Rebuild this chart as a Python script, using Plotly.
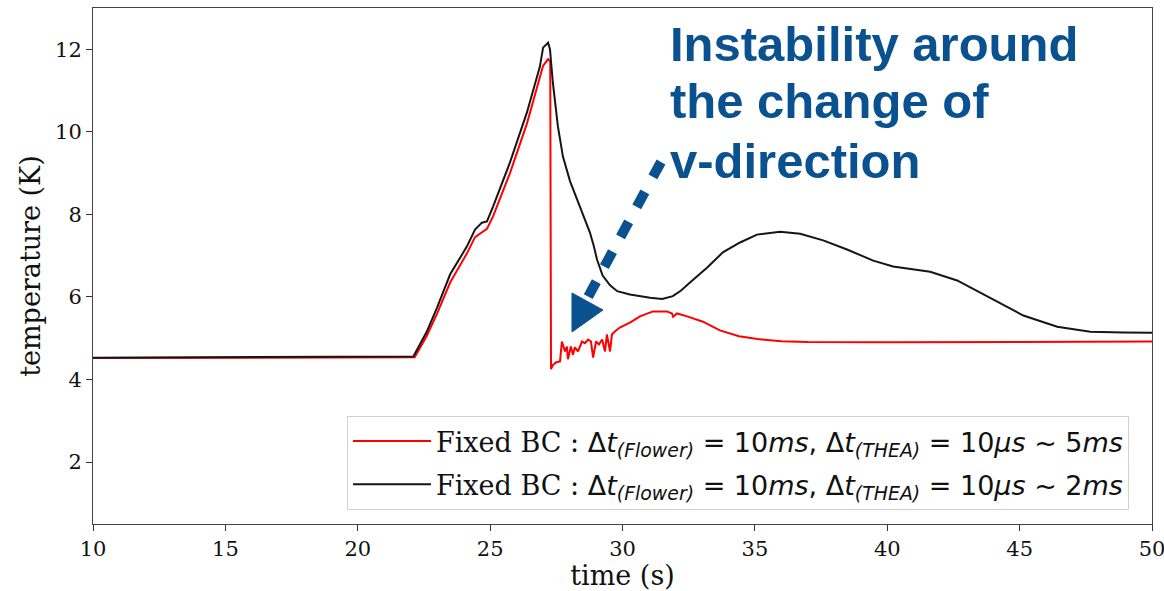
import plotly.graph_objects as go

# ---------------- data ----------------
red_t = [10, 15, 20, 22.15, 22.6, 23.0, 23.49, 24.12, 24.43, 24.69, 24.88, 25.11, 25.75,
         26.39, 26.88, 27.0, 27.19, 27.27, 27.30, 27.37, 27.5, 27.64, 27.71, 27.83, 27.9,
         27.94, 28.05, 28.13, 28.2, 28.32, 28.47, 28.58, 28.7, 28.81, 28.89, 29.0, 29.11,
         29.23, 29.34, 29.41, 29.53, 29.6, 29.72, 29.9, 30.28, 30.66, 31.15, 31.68, 31.87,
         31.91, 32.06, 32.44, 33.04, 33.68, 34.4, 35.1, 36.0, 37.0, 40.0, 45.0, 50.0]
red_T = [4.52, 4.53, 4.54, 4.54, 5.05, 5.6, 6.35, 7.05, 7.45, 7.57, 7.65, 7.95, 9.0,
         10.2, 11.35, 11.6, 11.76, 11.7, 4.25, 4.35, 4.42, 4.44, 4.92, 4.68, 4.80,
         4.49, 4.80, 4.60, 4.78, 4.68, 4.92, 4.88, 4.97, 4.92, 4.53, 4.92, 4.85,
         4.97, 4.68, 5.09, 4.68, 5.09, 5.17, 5.26, 5.38, 5.53, 5.65, 5.65, 5.60,
         5.52, 5.60, 5.53, 5.40, 5.19, 5.05, 4.98, 4.93, 4.91, 4.90, 4.91, 4.92]

black_t = [10, 15, 20, 22.1, 22.6, 23.0, 23.49, 24.12, 24.43, 24.69, 24.88, 25.11, 25.75,
           26.39, 26.88, 27.0, 27.19, 27.26, 27.37, 27.56, 27.75, 28.02, 28.39, 28.77,
           28.92, 29.04, 29.25, 29.53, 29.8, 30.28, 31.04, 31.5, 31.9, 32.2, 32.55, 33.19,
           33.79, 34.44, 35.08, 35.95, 36.71, 37.58, 38.48, 39.47, 40.22, 40.75, 41.62,
           42.64, 43.89, 45.14, 46.42, 47.67, 48.92, 50.0]
black_T = [4.53, 4.54, 4.55, 4.56, 5.15, 5.75, 6.55, 7.22, 7.63, 7.80, 7.83, 8.19, 9.26,
           10.47, 11.58, 12.04, 12.16, 12.0, 11.19, 10.13, 9.40, 8.80, 8.19, 7.56,
           7.22, 6.90, 6.52, 6.28, 6.14, 6.06, 5.98, 5.95, 6.02, 6.15, 6.35, 6.71,
           7.08, 7.32, 7.51, 7.58, 7.53, 7.37, 7.15, 6.88, 6.74, 6.69, 6.61,
           6.40, 5.98, 5.55, 5.28, 5.16, 5.14, 5.13]

x_ticks = [10, 15, 20, 25, 30, 35, 40, 45, 50]
y_ticks = [2, 4, 6, 8, 10, 12]

math_font = "DejaVu Sans"
label_red = ("Fixed BC : <span style='font-family:%s'>Δ<i>t</i><sub><i>(Flower)</i></sub> = 10<i>ms</i>, "
             "Δ<i>t</i><sub><i>(THEA)</i></sub> = 10<i>μs</i> ~ 5<i>ms</i></span>") % math_font
label_black = ("Fixed BC : <span style='font-family:%s'>Δ<i>t</i><sub><i>(Flower)</i></sub> = 10<i>ms</i>, "
               "Δ<i>t</i><sub><i>(THEA)</i></sub> = 10<i>μs</i> ~ 2<i>ms</i></span>") % math_font

note_lines = ["Instability around", "the change of", "v-direction"]

# ---------------- layout helpers (pixel -> paper) ----------------
W, H = 1164, 591
L, R, T, B = 93, 12, 8, 67
PW, PH = W - L - R, H - T - B


def px(x):
    return (x - L) / PW


def py(y):
    return (H - B - y) / PH


BLUE = "#0a5190"

fig = go.Figure()
fig.add_trace(go.Scatter(x=red_t, y=red_T, mode="lines", name=label_red, legendgroup="a",
                         line=dict(color="#ff0000", width=2)))
fig.add_trace(go.Scatter(x=black_t, y=black_T, mode="lines", name=label_black, legendgroup="b",
                         line=dict(color="#151515", width=2)))

annotations = []
for txt, yc in zip(note_lines, [44, 101, 161]):
    annotations.append(dict(text=txt, xref="paper", yref="paper", x=px(668), y=py(yc),
                            xanchor="left", yanchor="middle", showarrow=False,
                            font=dict(family="Liberation Sans, Arial", size=49,
                                      color=BLUE, weight="bold")))

shapes = [
    dict(type="line", xref="paper", yref="paper",
         x0=px(661), y0=py(162), x1=px(588), y1=py(297),
         line=dict(color=BLUE, width=10, dash="17px,17px")),
    dict(type="path", xref="paper", yref="paper",
         path="M %f %f L %f %f L %f %f Z" % (px(572), py(293), px(572), py(332), px(603), py(310)),
         fillcolor=BLUE, line=dict(color=BLUE, width=1)),
]

fig.update_layout(
    width=W, height=H,
    margin=dict(l=L, r=R, t=T, b=B, autoexpand=False),
    plot_bgcolor="white", paper_bgcolor="white",
    showlegend=True,
    legend=dict(x=px(347), y=py(510), xanchor="left", yanchor="bottom",
                bgcolor="rgba(255,255,255,0.85)", bordercolor="#d0d0d0", borderwidth=1,
                font=dict(family="DejaVu Serif", size=27, color="#111"),
                itemwidth=78, tracegroupgap=5),
    annotations=annotations,
    shapes=shapes,
    xaxis=dict(range=[10, 50], tickvals=x_ticks, ticks="outside", ticklen=6,
               tickcolor="#333", showline=True, linecolor="#444", linewidth=1,
               mirror=True, showgrid=False, zeroline=False, ticklabeloverflow="allow",
               tickfont=dict(family="DejaVu Serif", size=21, color="#111"),
               title=dict(text="time (s)", standoff=4,
                          font=dict(family="DejaVu Serif", size=27, color="#111"))),
    yaxis=dict(range=[0.5, 13.0], tickvals=y_ticks, ticks="outside", ticklen=6,
               tickcolor="#333", showline=True, linecolor="#444", linewidth=1,
               mirror=True, showgrid=False, zeroline=False, ticklabeloverflow="allow",
               tickfont=dict(family="DejaVu Serif", size=21, color="#111"),
               title=dict(text="temperature (K)", standoff=6,
                          font=dict(family="DejaVu Serif", size=27, color="#111"))),
)
fig.write_html("out.html", config={"displayModeBar": False},
               post_script="document.body.style.margin='0';document.body.style.padding='0';"
                           "document.documentElement.style.overflow='hidden';")
